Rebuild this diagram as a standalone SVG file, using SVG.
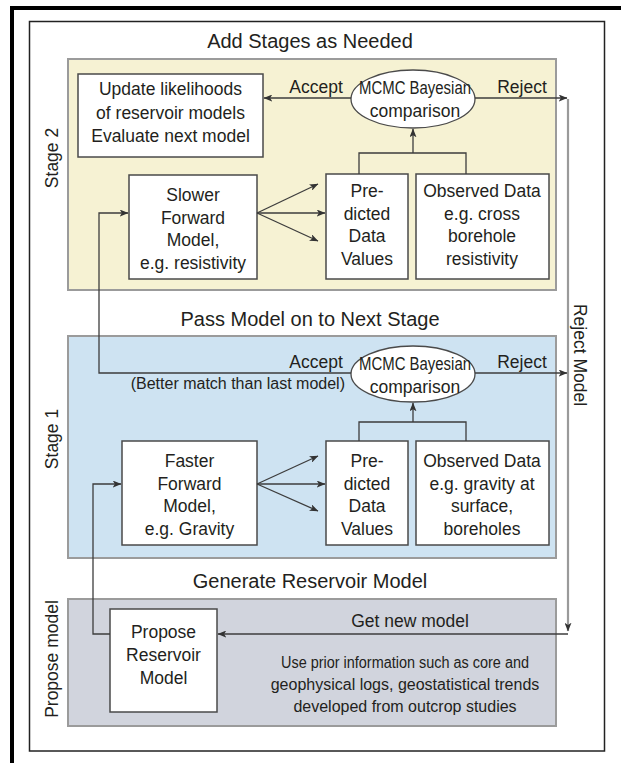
<svg xmlns="http://www.w3.org/2000/svg" width="621" height="763" viewBox="0 0 621 763">
<defs>
<style>
text{font-family:"Liberation Sans",Arial,sans-serif;fill:#231f20;}
.t{font-size:17.5px;text-anchor:middle;}
.h{font-size:20px;text-anchor:middle;}
.box{fill:#fff;stroke:#4a4a4a;stroke-width:1.5;}
.panel{stroke:#9b9b9b;stroke-width:2;}
.ln{fill:none;stroke:#3d3d3d;stroke-width:1.3;}
</style>
<marker id="ah" viewBox="0 0 10 8" refX="9.5" refY="4" markerWidth="9" markerHeight="7" markerUnits="userSpaceOnUse" orient="auto">
<path d="M0,0 L10,4 L0,8 L2.5,4 Z" fill="#333"/>
</marker>
</defs>
<rect x="0" y="0" width="621" height="763" fill="#fff"/>
<rect x="12" y="8" width="700" height="900" fill="none" stroke="#000" stroke-width="4"/>
<rect x="29.5" y="21.5" width="575" height="729.5" fill="none" stroke="#222" stroke-width="1.5"/>

<g id="stage2">
<rect class="panel" x="68" y="59" width="488" height="231" fill="#f6f2d3"/>
<text class="h" x="310" y="48">Add Stages as Needed</text>
<text class="t" transform="translate(58,158) rotate(-90)">Stage 2</text>
</g>
<g id="stage1">
<rect class="panel" x="68" y="336" width="488" height="222" fill="#cee3f2"/>
<text class="h" x="310" y="326">Pass Model on to Next Stage</text>
<text class="t" transform="translate(58,439) rotate(-90)">Stage 1</text>
</g>
<g id="propose">
<rect class="panel" x="68" y="599" width="488" height="127" fill="#d1d4dd"/>
<text class="h" x="310" y="588">Generate Reservoir Model</text>
<text class="t" transform="translate(58,659) rotate(-90)">Propose model</text>
<text x="405" y="668" style="font-size:16px;text-anchor:middle" textLength="248" lengthAdjust="spacingAndGlyphs">Use prior information such as core and</text>
<text x="405" y="690" style="font-size:16px;text-anchor:middle">geophysical logs, geostatistical trends</text>
<text x="405" y="712" style="font-size:16px;text-anchor:middle">developed from outcrop studies</text>
</g>
<text class="t" transform="translate(574,355) rotate(90)">Reject Model</text>

<g id="update">
<rect class="box" x="78" y="74" width="185" height="83"/>
<text class="t" x="170.5" y="95">Update likelihoods</text>
<text class="t" x="170.5" y="118.5">of reservoir models</text>
<text class="t" x="170.5" y="142">Evaluate next model</text>
</g>
<g id="mcmc2">
<ellipse cx="413" cy="99" rx="62" ry="29" fill="#fff" stroke="#4a4a4a" stroke-width="1.3"/>
<text class="t" x="415" y="94" textLength="112" lengthAdjust="spacingAndGlyphs">MCMC Bayesian</text>
<text class="t" x="415" y="117">comparison</text>
</g>
<g id="slower">
<rect class="box" x="129" y="175" width="128" height="104"/>
<text class="t" x="193" y="201">Slower</text>
<text class="t" x="193" y="223.5">Forward</text>
<text class="t" x="193" y="246">Model,</text>
<text class="t" x="193" y="268.5">e.g. resistivity</text>
</g>
<g id="pred2">
<rect class="box" x="326" y="174" width="82" height="105"/>
<text class="t" x="367" y="197">Pre-</text>
<text class="t" x="367" y="219.5">dicted</text>
<text class="t" x="367" y="242">Data</text>
<text class="t" x="367" y="264.5">Values</text>
</g>
<g id="obs2">
<rect class="box" x="416" y="174" width="133" height="105"/>
<text class="t" x="482" y="197">Observed Data</text>
<text class="t" x="482" y="219.5">e.g. cross</text>
<text class="t" x="482" y="242">borehole</text>
<text class="t" x="482" y="264.5">resistivity</text>
</g>

<g id="mcmc1">
<ellipse cx="413" cy="374" rx="62" ry="28" fill="#fff" stroke="#4a4a4a" stroke-width="1.3"/>
<text class="t" x="415" y="370" textLength="112" lengthAdjust="spacingAndGlyphs">MCMC Bayesian</text>
<text class="t" x="415" y="393">comparison</text>
</g>
<g id="faster">
<rect class="box" x="122" y="441" width="135" height="104"/>
<text class="t" x="189.5" y="467">Faster</text>
<text class="t" x="189.5" y="489.5">Forward</text>
<text class="t" x="189.5" y="512">Model,</text>
<text class="t" x="189.5" y="534.5">e.g. Gravity</text>
</g>
<g id="pred1">
<rect class="box" x="326" y="441" width="82" height="104"/>
<text class="t" x="367" y="467">Pre-</text>
<text class="t" x="367" y="489.5">dicted</text>
<text class="t" x="367" y="512">Data</text>
<text class="t" x="367" y="534.5">Values</text>
</g>
<g id="obs1">
<rect class="box" x="416" y="441" width="133" height="104"/>
<text class="t" x="482" y="467">Observed Data</text>
<text class="t" x="482" y="489.5">e.g. gravity at</text>
<text class="t" x="482" y="512">surface,</text>
<text class="t" x="482" y="534.5">boreholes</text>
</g>
<g id="proposebox">
<rect class="box" x="110" y="609" width="107" height="103"/>
<text class="t" x="163.5" y="638">Propose</text>
<text class="t" x="163.5" y="661">Reservoir</text>
<text class="t" x="163.5" y="684">Model</text>
</g>

<g id="connectors">
<path class="ln" d="M351,98 H264" marker-end="url(#ah)"/>
<path class="ln" d="M475,98 H567" marker-end="url(#ah)"/>
<path d="M568,99 V631" fill="none" stroke="#9a9a9a" stroke-width="2.2" marker-end="url(#ah)"/>
<path class="ln" d="M568,634 H218" marker-end="url(#ah)"/>
<path class="ln" d="M475,373 H567" marker-end="url(#ah)"/>
<path class="ln" d="M351,373 H99 V213 H128" marker-end="url(#ah)"/>
<path class="ln" d="M110,634 H93 V484 H121" marker-end="url(#ah)"/>
<path class="ln" d="M257,213 L318,184" marker-end="url(#ah)"/>
<path class="ln" d="M257,213 H325" marker-end="url(#ah)"/>
<path class="ln" d="M257,213 L318,241" marker-end="url(#ah)"/>
<path class="ln" d="M257,484 L318,456" marker-end="url(#ah)"/>
<path class="ln" d="M257,484 H325" marker-end="url(#ah)"/>
<path class="ln" d="M257,484 L318,511" marker-end="url(#ah)"/>
<path class="ln" d="M359,174 V153 H466 V174"/>
<path class="ln" d="M413,153 V129" marker-end="url(#ah)"/>
<path class="ln" d="M359,441 V422 H466 V441"/>
<path class="ln" d="M413,422 V403" marker-end="url(#ah)"/>
</g>
<text class="t" x="316" y="93">Accept</text>
<text class="t" x="522" y="93">Reject</text>
<text class="t" x="316" y="368">Accept</text>
<text class="t" x="522" y="368">Reject</text>
<text x="345" y="389" style="font-size:16px;text-anchor:end">(Better match than last model)</text>
<text class="t" x="410" y="627">Get new model</text>
</svg>
